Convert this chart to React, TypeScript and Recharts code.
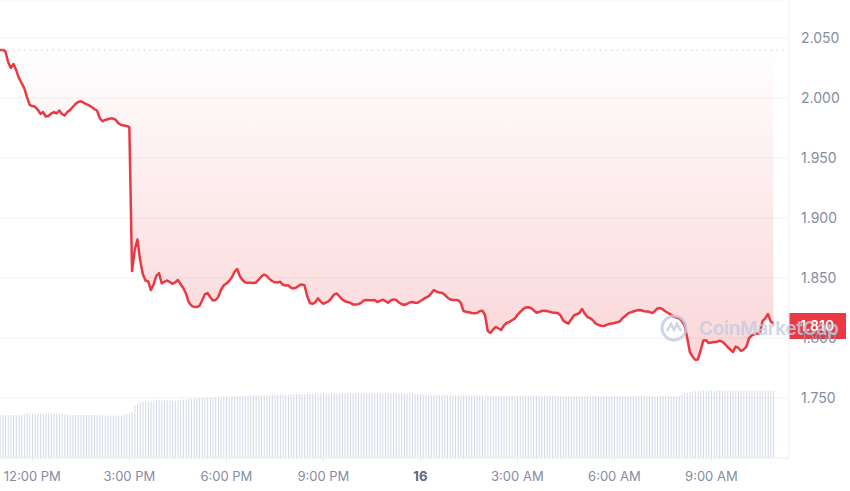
import React from "react";
import {
  Area,
  Bar,
  CartesianGrid,
  ComposedChart,
  ReferenceLine,
  XAxis,
  YAxis,
} from "recharts";

// hours counted from 12:00 PM on the 15th, one point every 5 minutes from 11:00 AM
const startHour = -1;
const stepHours = 5 / 60;

const prices = [
  2.04, 2.04, 2.039, 2.03, 2.025, 2.0283, 2.0233, 2.0167, 2.0125, 2.0083, 2.0008, 1.9942,
  1.9933, 1.9927, 1.9904, 1.9867, 1.9883, 1.9846, 1.985, 1.9871, 1.9883, 1.9872, 1.9896, 1.9867,
  1.9854, 1.9883, 1.99, 1.9925, 1.995, 1.9967, 1.9973, 1.9961, 1.995, 1.9938, 1.9925, 1.9908,
  1.9896, 1.9833, 1.9806, 1.9817, 1.9823, 1.9829, 1.9829, 1.9817, 1.9788, 1.9775, 1.9771, 1.9767,
  1.9758, 1.8558, 1.8733, 1.8821, 1.865, 1.8533, 1.8479, 1.8471, 1.84, 1.8446, 1.8517, 1.8542,
  1.8456, 1.8467, 1.8479, 1.8467, 1.8452, 1.8463, 1.8483, 1.845, 1.8417, 1.8371, 1.83, 1.8271,
  1.8258, 1.8258, 1.8267, 1.8313, 1.8363, 1.8375, 1.8342, 1.8313, 1.8317, 1.8342, 1.84, 1.8438,
  1.8454, 1.8475, 1.8504, 1.855, 1.8575, 1.8517, 1.8483, 1.8463, 1.8461, 1.8461, 1.8458, 1.8463,
  1.8486, 1.8513, 1.8529, 1.8517, 1.8492, 1.8475, 1.8464, 1.8463, 1.8468, 1.8443, 1.8438, 1.8438,
  1.8419, 1.8413, 1.8421, 1.8438, 1.8446, 1.8438, 1.835, 1.8292, 1.8285, 1.8298, 1.833, 1.8303,
  1.8285, 1.8296, 1.8308, 1.8333, 1.8363, 1.8371, 1.8346, 1.8321, 1.8306, 1.83, 1.8293, 1.828,
  1.828, 1.8282, 1.8293, 1.8313, 1.8317, 1.8314, 1.8315, 1.8317, 1.83, 1.831, 1.8319, 1.8308,
  1.8294, 1.8313, 1.8322, 1.8317, 1.8296, 1.8283, 1.8275, 1.8283, 1.8296, 1.83, 1.8294, 1.8294,
  1.8308, 1.8322, 1.8336, 1.8346, 1.8371, 1.84, 1.8386, 1.8379, 1.8378, 1.8361, 1.8338, 1.8323,
  1.8317, 1.8317, 1.8315, 1.8293, 1.8225, 1.8219, 1.8215, 1.8208, 1.8206, 1.8208, 1.8223, 1.8227,
  1.8192, 1.8058, 1.8042, 1.8071, 1.8092, 1.8079, 1.8067, 1.8104, 1.8125, 1.8135, 1.8148, 1.8161,
  1.8192, 1.8215, 1.8239, 1.8254, 1.8256, 1.825, 1.8233, 1.8211, 1.8217, 1.8225, 1.8227, 1.8225,
  1.8218, 1.8213, 1.8211, 1.8208, 1.8188, 1.8146, 1.8129, 1.8121, 1.8157, 1.8188, 1.8198, 1.8208,
  1.8242, 1.8204, 1.8175, 1.8165, 1.8148, 1.8121, 1.811, 1.8102, 1.81, 1.8108, 1.8117, 1.8121,
  1.8125, 1.8131, 1.8138, 1.8163, 1.8183, 1.8203, 1.8214, 1.8221, 1.8228, 1.8233, 1.8231, 1.8223,
  1.8221, 1.8218, 1.8208, 1.8223, 1.8246, 1.825, 1.8238, 1.8221, 1.8208, 1.8193, 1.8178, 1.8171,
  1.8164, 1.8142, 1.8108, 1.8004, 1.7883, 1.7844, 1.7819, 1.7821, 1.7896, 1.798, 1.7982, 1.7958,
  1.7963, 1.7967, 1.7967, 1.7977, 1.797, 1.795, 1.7925, 1.7904, 1.7883, 1.7928, 1.7917, 1.7892,
  1.7904, 1.7929, 1.8, 1.8021, 1.8031, 1.8035, 1.8042, 1.8142, 1.8163, 1.82, 1.8138, 1.8121,
];

// 24h volume, millions
const volumes = [
  94, 94, 93, 94, 94, 94, 93, 94, 94, 95, 98, 97,
  96, 96, 96, 96, 96, 96, 98, 97, 96, 96, 96, 96,
  95, 94, 94, 94, 94, 94, 94, 94, 94, 94, 94, 94,
  94, 94, 93, 93, 93, 92, 92, 92, 93, 93, 95, 96,
  96, 101, 114, 119, 121, 122, 122, 123, 124, 125, 127, 127,
  126, 126, 126, 125, 125, 124, 125, 127, 128, 128, 129, 130,
  130, 131, 131, 131, 132, 132, 132, 132, 133, 133, 133, 134,
  134, 134, 135, 135, 135, 136, 136, 136, 137, 137, 137, 137,
  137, 137, 137, 137, 137, 138, 138, 138, 138, 138, 138, 138,
  138, 139, 139, 139, 139, 139, 140, 140, 140, 141, 141, 141,
  141, 141, 141, 141, 141, 141, 141, 142, 142, 142, 142, 142,
  142, 142, 142, 142, 142, 142, 142, 142, 142, 142, 142, 142,
  142, 142, 142, 141, 141, 141, 141, 141, 141, 140, 140, 140,
  139, 139, 138, 138, 138, 138, 138, 138, 138, 138, 138, 138,
  137, 137, 137, 137, 137, 137, 137, 137, 137, 137, 137, 137,
  137, 137, 136, 136, 136, 136, 136, 136, 136, 136, 136, 136,
  136, 136, 136, 136, 136, 136, 136, 136, 136, 136, 136, 136,
  136, 136, 136, 135, 135, 135, 135, 135, 135, 135, 135, 135,
  135, 135, 135, 135, 135, 135, 135, 135, 135, 135, 135, 135,
  135, 135, 135, 135, 135, 135, 135, 135, 136, 136, 136, 136,
  135, 135, 135, 135, 135, 135, 135, 135, 135, 135, 135, 135,
  136, 138, 140, 142, 144, 145, 146, 147, 147, 147, 147, 147,
  147, 147, 147, 147, 147, 147, 147, 147, 147, 147, 147, 147,
  147, 147, 147, 147, 147, 147, 147, 147, 147, 147, 147, 147,
];

const timeTicks = [0, 3, 6, 9, 12, 15, 18, 21];
const timeLabels = ["12:00 PM", "3:00 PM", "6:00 PM", "9:00 PM", "16", "3:00 AM", "6:00 AM", "9:00 AM"];
const priceTicks = [1.75, 1.8, 1.85, 1.9, 1.95, 2.0, 2.05];
const openPrice = 2.04;
const currentPrice = 1.81;

const data = prices.map((price, i) => ({
  t: startHour + i * stepHours,
  price,
  volume: volumes[i],
}));

const red = "#ea3943";
const axisGray = "#858ca2";

function TimeTick({ x, y, payload }: any) {
  const label = timeLabels[timeTicks.indexOf(payload.value)];
  const day = label === "16";
  return (
    <text
      x={x}
      y={y}
      dy={18}
      textAnchor="middle"
      fontFamily="Inter"
      fontSize={13}
      fontWeight={day ? 700 : 400}
      fill={day ? "#58667e" : axisGray}
    >
      {label}
    </text>
  );
}

function PriceTag({ viewBox }: any) {
  const x = viewBox.x + viewBox.width;
  const y = viewBox.y;
  return (
    <g>
      <rect x={x} y={y - 13} width={57} height={26} fill={red} />
      <text x={x + 11} y={y} dy="0.355em" fill="#fff" fontFamily="Inter" fontSize={14} fontWeight={600}>
        {currentPrice.toFixed(3)}
      </text>
    </g>
  );
}

export default function App() {
  return (
    <div style={{ position: "absolute", left: 0, top: 0, width: 850, height: 491, background: "#fff" }}>
      <ComposedChart width={850} height={491} data={data} margin={{ top: 0, right: 0, bottom: 0, left: 0 }}>
        <defs>
          <linearGradient id="fade" x1="0" y1="0" x2="0" y2="1">
            <stop offset="0%" stopColor={red} stopOpacity={0.01} />
            <stop offset="100%" stopColor={red} stopOpacity={0.34} />
          </linearGradient>
        </defs>
        <CartesianGrid yAxisId="price" vertical={false} stroke="#f2f3f6" />
        <XAxis
          dataKey="t"
          type="number"
          domain={[-1, 23.4]}
          ticks={timeTicks}
          interval={0}
          allowDataOverflow
          height={33}
          tickSize={3}
          tickLine={{ stroke: "#e8eaef" }}
          axisLine={{ stroke: "#eff1f4" }}
          tick={<TimeTick />}
        />
        <YAxis
          yAxisId="price"
          orientation="right"
          width={61}
          domain={[1.7, 2.08167]}
          ticks={priceTicks}
          allowDataOverflow
          tickLine={false}
          tickMargin={6}
          axisLine={{ stroke: "#eff1f4" }}
          tick={{ fill: axisGray, fontSize: 14, fontFamily: "Inter" }}
          tickFormatter={(v: number) => v.toFixed(3)}
        />
        <YAxis yAxisId="vol" hide domain={[0, 1000]} />
        <Bar yAxisId="vol" dataKey="volume" barSize={1} fill="#d3d9e6" isAnimationActive={false} />
        <ReferenceLine yAxisId="price" y={openPrice} stroke="#b4b9c4" strokeDasharray="1 4.7" />
        <Area
          yAxisId="price"
          dataKey="price"
          type="linear"
          baseValue={openPrice}
          stroke={red}
          strokeWidth={2.5}
          strokeLinejoin="round"
          fill="url(#fade)"
          dot={false}
          activeDot={false}
          isAnimationActive={false}
        />
        <ReferenceLine yAxisId="price" y={currentPrice} stroke="none" label={(p: any) => <PriceTag {...p} />} />
      </ComposedChart>
      <div
        style={{
          position: "absolute",
          zIndex: 10,
          left: 660,
          top: 314,
          display: "flex",
          alignItems: "center",
          gap: 11,
          whiteSpace: "nowrap",
          opacity: 0.8,
          color: "#c3cbe0",
          fontFamily: "Inter",
          fontWeight: 600,
          fontSize: 19,
          letterSpacing: -0.3,
          pointerEvents: "none",
        }}
      >
        <svg width={28} height={28} viewBox="0 0 28 28">
          <circle cx={14} cy={14} r={12} fill="none" stroke="currentColor" strokeWidth={3} />
          <path d="M7 17 L11 10 L14 16 L17 10 L21 17" fill="none" stroke="currentColor" strokeWidth={2.5} />
        </svg>
        <span>CoinMarketCap</span>
      </div>
    </div>
  );
}
